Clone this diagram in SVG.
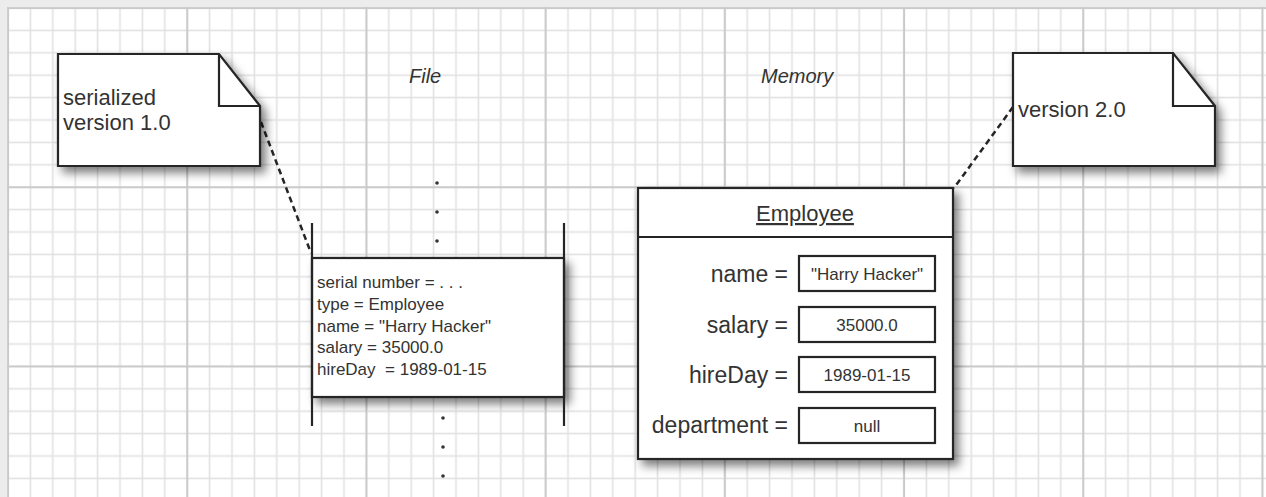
<svg xmlns="http://www.w3.org/2000/svg" width="1266" height="497" viewBox="0 0 1266 497">
  <defs>
    <pattern id="fine" patternUnits="userSpaceOnUse" x="-3.2" y="-3.2" width="22.4" height="22.4">
      <rect x="10.4" y="0" width="1.6" height="22.4" fill="#e1e1e1"/>
      <rect x="0" y="10.4" width="22.4" height="1.6" fill="#e1e1e1"/>
    </pattern>
    <pattern id="major" patternUnits="userSpaceOnUse" x="-81.6" y="-81.6" width="179.2" height="179.2">
      <rect x="88.8" y="0" width="1.8" height="179.2" fill="#c9c9c9"/>
      <rect x="0" y="88.8" width="179.2" height="1.8" fill="#c9c9c9"/>
    </pattern>
    <filter id="shadow" x="-20%" y="-20%" width="150%" height="150%">
      <feDropShadow dx="5" dy="6" stdDeviation="5" flood-color="#000" flood-opacity="0.5"/>
    </filter>
    <style>
      .shape { fill: #fff; stroke: #252525; stroke-width: 2.2; stroke-linejoin: miter; }
      .line { fill: none; stroke: #252525; stroke-width: 2.2; }
      .dash { fill: none; stroke: #252525; stroke-width: 2.5; stroke-dasharray: 6 4; }
      .t { font-family: "Liberation Sans", Arial, sans-serif; fill: #333; }
      .note { font-size: 22px; }
      .small { font-size: 17px; }
      .field { font-size: 23px; text-anchor: end; }
      .val { font-size: 17px; text-anchor: middle; }
      .title { font-size: 20px; font-style: italic; }
      .dot { fill: #333; }
    </style>
  </defs>

  <!-- background and grid -->
  <rect x="0" y="0" width="1266" height="497" fill="#ececec"/>
  <rect x="7" y="7" width="1259" height="490" fill="#ffffff"/>
  <rect x="7" y="7" width="1259" height="490" fill="url(#fine)"/>
  <rect x="7" y="7" width="1259" height="490" fill="url(#major)"/>

  <!-- titles -->
  <text class="t title" x="409" y="83">File</text>
  <text class="t title" x="761" y="83">Memory</text>

  <!-- connectors -->
  <g id="connectors">
    <line class="dash" x1="261" y1="122" x2="311" y2="253"/>
    <line class="dash" x1="1013" y1="107" x2="954" y2="188"/>
  </g>

  <!-- note 1 -->
  <g id="note-serialized">
    <path class="shape" filter="url(#shadow)" d="M58,54 H219 L260,106 V166 H58 Z"/>
    <path class="line" d="M219,54 V106 H260"/>
    <text class="t note" x="63" y="105">serialized</text>
    <text class="t note" x="63" y="130">version 1.0</text>
  </g>

  <!-- note 2 -->
  <g id="note-version2">
    <path class="shape" filter="url(#shadow)" d="M1013,53 H1173 L1215,106 V166 H1013 Z"/>
    <path class="line" d="M1173,53 V106 H1215"/>
    <text class="t note" x="1018" y="117">version 2.0</text>
  </g>

  <!-- file stream -->
  <g id="file-record">
    <circle class="dot" cx="437" cy="183" r="1.8"/>
    <circle class="dot" cx="437" cy="212" r="1.8"/>
    <circle class="dot" cx="437" cy="241" r="1.8"/>
    <circle class="dot" cx="443" cy="418" r="1.8"/>
    <circle class="dot" cx="443" cy="447" r="1.8"/>
    <circle class="dot" cx="443" cy="476" r="1.8"/>
    <rect class="shape" filter="url(#shadow)" x="312" y="258" width="252" height="139"/>
    <line class="line" x1="312" y1="223" x2="312" y2="426"/>
    <line class="line" x1="564" y1="223" x2="564" y2="426"/>
    <text class="t small" x="317" y="288">serial number = . . .</text>
    <text class="t small" x="317" y="310">type = Employee</text>
    <text class="t small" x="317" y="332">name = "Harry Hacker"</text>
    <text class="t small" x="317" y="353">salary = 35000.0</text>
    <text class="t small" x="317" y="375" xml:space="preserve">hireDay  = 1989-01-15</text>
  </g>

  <!-- Employee object in memory -->
  <g id="employee-object">
    <rect class="shape" filter="url(#shadow)" x="638" y="188" width="315" height="271"/>
    <line class="line" x1="638" y1="237" x2="953" y2="237"/>
    <text class="t" x="805" y="221" font-size="22" text-anchor="middle" text-decoration="underline">Employee</text>

    <text class="t field" x="788" y="282">name =</text>
    <rect class="shape" x="799" y="256" width="136" height="35"/>
    <text class="t val" x="867" y="280">"Harry Hacker"</text>

    <text class="t field" x="788" y="333">salary =</text>
    <rect class="shape" x="799" y="307" width="136" height="35"/>
    <text class="t val" x="867" y="331">35000.0</text>

    <text class="t field" x="788" y="383">hireDay =</text>
    <rect class="shape" x="799" y="357" width="136" height="35"/>
    <text class="t val" x="867" y="381">1989-01-15</text>

    <text class="t field" x="788" y="433">department =</text>
    <rect class="shape" x="799" y="408" width="136" height="35"/>
    <text class="t val" x="867" y="432">null</text>
  </g>
</svg>
